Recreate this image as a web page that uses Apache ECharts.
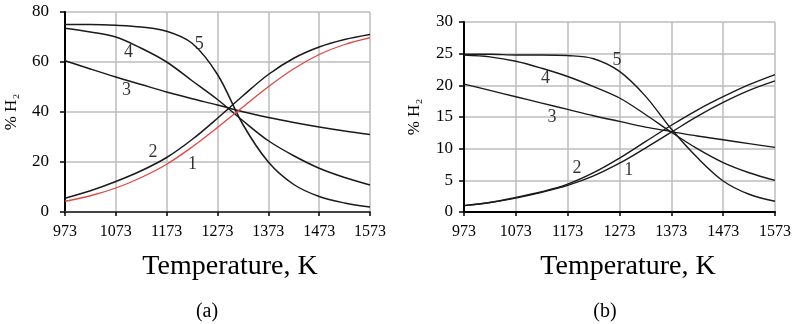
<!DOCTYPE html>
<html>
<head>
<meta charset="utf-8">
<script src="https://cdn.jsdelivr.net/npm/echarts@6/dist/echarts.min.js"></script>
<style>
html, body { margin: 0; padding: 0; background: #fff; }
#chart { width: 794px; height: 324px; }
</style>
</head>
<body>
<div id="chart"></div>
<script>
// temperature grid, K
var temps = [973, 1023, 1073, 1123, 1173, 1223, 1273, 1323, 1373, 1423, 1473, 1523, 1573];

// (a) % H2, curves 1..5
var a1 = [4.3, 6.5, 9.6, 13.8, 19.1, 26, 33.8, 42, 50.1, 57.3, 63, 67, 69.7];
var a2 = [5.5, 8.5, 12.2, 16.5, 21.8, 29, 37.5, 46.5, 55, 61.5, 66, 69, 71];
var a3 = [60.5, 57.2, 54, 51, 48, 45.3, 42.8, 40.1, 37.8, 35.8, 34, 32.4, 31];
var a4 = [73.5, 72, 70, 65.5, 60, 52.5, 45, 36.5, 28.5, 22.5, 17.5, 13.8, 10.8];
var a5 = [75, 75, 74.7, 74, 72.3, 67.5, 55, 35, 20, 11, 6.2, 3.6, 2];

// (b) % H2, curves 1..5
var b1 = [1, 1.5, 2.2, 3.1, 4.2, 5.7, 7.7, 10.1, 12.6, 15.1, 17.3, 19.2, 20.7];
var b2 = [1, 1.5, 2.3, 3.2, 4.4, 6.2, 8.5, 11.1, 13.7, 16.1, 18.2, 20.1, 21.7];
var b3 = [20.2, 19.2, 18.2, 17.2, 16.2, 15.2, 14.3, 13.4, 12.7, 12, 11.4, 10.8, 10.2];
var b4 = [24.8, 24.5, 23.8, 22.7, 21.4, 19.8, 18.0, 15.4, 12.6, 10.0, 7.8, 6.2, 5.0];
var b5 = [24.9, 24.9, 24.8, 24.8, 24.7, 24.2, 22.2, 18.3, 13.1, 8.6, 4.9, 2.8, 1.7];

// curve number labels: [text, T, %H2]
var labelsA = [['1', 1224, 18.9], ['2', 1146, 23.9], ['3', 1094, 48.5], ['4', 1098, 63.7], ['5', 1237, 67]];
var labelsB = [['1', 1291, 6.6], ['2', 1191, 6.9], ['3', 1143, 15.0], ['4', 1130, 21.1], ['5', 1268, 24.0]];

var serif = 'Liberation Serif';

function pairs(ys) {
	var out = [];
	for (var i = 0; i < temps.length; i++) {
		out.push([temps[i], ys[i]]);
	}
	return out;
}

function curve(name, ys, idx, color, width) {
	return {
		name: name,
		type: 'line',
		xAxisIndex: idx,
		yAxisIndex: idx,
		data: pairs(ys),
		smooth: 0.35,
		symbol: 'none',
		silent: true,
		lineStyle: { color: color, width: width }
	};
}

function labelSeries(list, idx) {
	var data = [];
	for (var i = 0; i < list.length; i++) {
		data.push({ value: [list[i][1], list[i][2]], name: list[i][0] });
	}
	return {
		type: 'scatter',
		xAxisIndex: idx,
		yAxisIndex: idx,
		symbolSize: 0,
		data: data,
		silent: true,
		label: {
			show: true,
			position: 'inside',
			formatter: '{b}',
			color: '#000',
			fontFamily: serif,
			fontSize: 18
		}
	};
}

function xAxisOf(idx) {
	return {
		type: 'value',
		gridIndex: idx,
		min: 973,
		max: 1573,
		interval: 100,
		axisLine: { onZero: false, lineStyle: { color: idx === 0 ? '#444' : '#000', width: 2 } },
		axisTick: { show: true, length: 4, lineStyle: { color: '#000', width: 1.5 } },
		axisLabel: {
			color: '#000',
			fontFamily: serif,
			fontSize: 16,
			margin: 12,
			showMinLabel: true,
			showMaxLabel: true,
			formatter: function (v) { return String(v); }
		},
		splitLine: { show: true, lineStyle: { color: '#bdbdbd', width: 1.5 } }
	};
}

function yAxisOf(idx, max, step, gap, nameGap) {
	return {
		type: 'value',
		gridIndex: idx,
		min: 0,
		max: max,
		interval: step,
		name: '% H\u2082',
		nameLocation: 'middle',
		nameGap: nameGap,
		nameTextStyle: { color: '#000', fontFamily: serif, fontSize: 17 },
		axisLine: { show: true, lineStyle: { color: '#000', width: 2 } },
		axisTick: { show: true, length: 5, lineStyle: { color: '#000', width: 1.5 } },
		axisLabel: { color: '#000', fontFamily: serif, fontSize: 17, margin: gap },
		splitLine: { show: true, lineStyle: { color: '#bdbdbd', width: 1.5 } }
	};
}

var chartObj = echarts.init(document.getElementById('chart'));

var option = {
	animation: false,
	backgroundColor: '#fff',
	grid: [
		{ left: 65, top: 12, width: 305, height: 200 },
		{ left: 464, top: 22, width: 311, height: 190 }
	],
	xAxis: [xAxisOf(0), xAxisOf(1)],
	yAxis: [yAxisOf(0, 80, 20, 16, 45), yAxisOf(1, 30, 5, 11, 41)],
	graphic: [
		{ type: 'text', x: 230, y: 267, style: { text: 'Temperature, K', font: '28px "Liberation Serif"', align: 'center', verticalAlign: 'middle', fill: '#000' } },
		{ type: 'text', x: 628, y: 267, style: { text: 'Temperature, K', font: '28px "Liberation Serif"', align: 'center', verticalAlign: 'middle', fill: '#000' } },
		{ type: 'text', x: 207, y: 312, style: { text: '(a)', font: '20px "Liberation Serif"', align: 'center', verticalAlign: 'middle', fill: '#000' } },
		{ type: 'text', x: 605, y: 312, style: { text: '(b)', font: '20px "Liberation Serif"', align: 'center', verticalAlign: 'middle', fill: '#000' } }
	],
	series: [
		curve('a5', a5, 0, '#1a1a1a', 1.5),
		curve('a4', a4, 0, '#1a1a1a', 1.5),
		curve('a3', a3, 0, '#1a1a1a', 1.5),
		curve('a2', a2, 0, '#1a1a1a', 1.5),
		curve('a1', a1, 0, '#e2473f', 1.3),
		labelSeries(labelsA, 0),
		curve('b5', b5, 1, '#1a1a1a', 1.4),
		curve('b4', b4, 1, '#1a1a1a', 1.4),
		curve('b3', b3, 1, '#1a1a1a', 1.4),
		curve('b2', b2, 1, '#1a1a1a', 1.4),
		curve('b1', b1, 1, '#1a1a1a', 1.4),
		labelSeries(labelsB, 1)
	]
};

chartObj.setOption(option);
</script>
</body>
</html>
